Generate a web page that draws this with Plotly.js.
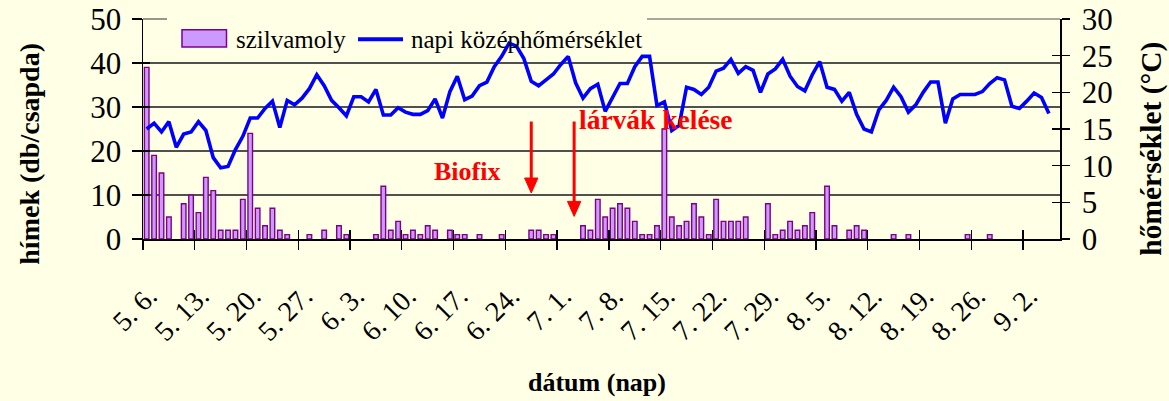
<!DOCTYPE html>
<html>
<head>
<meta charset="utf-8">
<script src="https://cdn.plot.ly/plotly-3.0.1.min.js"></script>
<style>html,body{margin:0;padding:0;background:#FFFFE6;}#chart{width:1169px;height:401px;}</style>
</head>
<body>
<div id="chart"></div>
<script>
// ---- data (one value per day, 6 May .. 6 Sep) ----
const nDays = 124;
const tickLabels = ['5. 6.','5. 13.','5. 20.','5. 27.','6. 3.','6. 10.','6. 17.','6. 24.','7. 1.','7. 8.','7. 15.','7. 22.','7. 29.','8. 5.','8. 12.','8. 19.','8. 26.','9. 2.'];
const mothCounts = [
 39,19,15,5,0,8,10,6,14,11,
 2,2,2,9,24,7,3,7,2,1,
 0,0,1,0,2,0,3,1,0,0,
 0,1,12,2,4,1,2,1,3,2,
 0,2,1,1,0,1,0,0,1,0,
 0,0,2,2,1,1,0,0,0,3,
 2,9,5,7,8,7,4,1,1,3,
 25,5,3,4,8,5,1,9,4,4,
 4,5,0,0,8,1,2,4,2,3,
 6,0,12,3,0,2,3,2,0,0,
 0,1,0,1,0,0,0,0,0,0,
 0,1,0,0,1,0,0,0,0,0,
 0,0,0,0];
const meanTemp = [
 15.0,15.8,14.6,16.0,12.5,14.3,14.6,16.0,14.8,11.1,
 9.7,9.9,12.2,14.0,16.5,16.5,17.8,18.8,15.2,18.9,
 18.3,19.2,20.5,22.4,20.9,18.9,17.9,16.8,19.4,19.4,
 18.7,20.4,16.9,16.9,17.9,17.3,17.0,17.0,17.5,19.1,
 16.5,20.1,22.2,19.0,19.5,20.9,21.4,23.5,24.9,26.7,
 26.3,24.6,21.5,20.9,21.7,22.5,23.8,24.9,21.3,19.2,
 20.5,21.1,17.4,19.2,21.2,21.2,23.5,24.9,24.9,18.2,
 18.7,14.8,15.5,20.7,20.4,19.7,20.7,22.9,23.3,24.5,
 22.6,23.5,23.0,20.0,22.5,23.2,24.5,22.2,20.8,20.2,
 22.4,24.2,20.7,20.4,18.8,20.0,17.0,15.0,14.6,17.6,
 18.9,20.7,19.4,17.3,18.3,20.0,21.4,21.4,15.8,19.1,
 19.7,19.7,19.7,20.1,21.2,22.0,21.7,18.1,17.8,18.8,
 19.9,19.3,17.1,null];
const seriesNames = ['szilvamoly','napi középhőmérséklet'];

// ---- build ----
const days = Array.from({length:nDays},(_,i)=>i);
const weekStarts = tickLabels.map((_,k)=>k*7);
const boundaryTicks = weekStarts.map(d=>d-0.5);
const labelPos = weekStarts.map(d=>d+0.3);

const BG = '#FFFFE6';
const FONT = 'Liberation Serif, Times New Roman, serif';
const xRange = [-0.5, nDays-0.5];

const traces = [
 {type:'bar', x:days, y:mothCounts.map(v=>v===0?null:v), name:seriesNames[0],
  xaxis:'x', yaxis:'y', width:0.62,
  marker:{color:'#CC99FF', line:{color:'#800080', width:1.4}}, showlegend:false},
 {type:'scatter', mode:'lines', x:days, y:meanTemp, name:seriesNames[1],
  xaxis:'x', yaxis:'y2', line:{color:'#0000FF', width:3.6}, showlegend:false},
 {type:'scatter', x:[null], y:[null], xaxis:'x2', yaxis:'y', showlegend:false, hoverinfo:'skip'},
 {type:'scatter', x:[null], y:[null], xaxis:'x3', yaxis:'y', showlegend:false, hoverinfo:'skip'},
 {type:'scatter', x:[null], y:[null], xaxis:'x', yaxis:'y3', showlegend:false, hoverinfo:'skip'},
 {type:'scatter', x:[null], y:[null], xaxis:'x', yaxis:'y4', showlegend:false, hoverinfo:'skip'}
];

// helpers for decoration placement in paper units
const L=143, R=1060, T=19.3, B=239.3;
const px = x => (x-L)/(R-L);
const py = y => (B-y)/(B-T);

function txt(text, x, y, size, color, extra){
 return Object.assign({text, xref:'paper', yref:'paper', x:px(x), y:py(y),
  xanchor:'center', yanchor:'middle', showarrow:false,
  font:{family:FONT, size, color}}, extra||{});
}

const annotations = [
 txt('<b>hímek (db/csapda)</b>', 30, 154, 28, '#000', {textangle:-90}),
 txt('<b>hőmérséklet (°C)</b>', 1152, 149, 29.5, '#000', {textangle:-90}),
 txt('<b>dátum (nap)</b>', 597, 383, 26, '#000'),
 txt('<b>Biofix</b>', 467, 172, 26, '#FF0000'),
 txt('<b>lárvák kelése</b>', 656, 120, 27.5, '#FF0000'),
 txt(seriesNames[0], 234, 40, 25, '#000', {xanchor:'left'}),
 txt(seriesNames[1], 409, 40, 25, '#000', {xanchor:'left'})
];

function arrow(xd, topY, tipY){
 const headLen = 15/4.4, half = 0.9;
 return [
  {type:'line', xref:'x', yref:'y', x0:xd, x1:xd, y0:topY, y1:tipY+headLen*0.8,
   line:{color:'#FF0000', width:3}, layer:'above'},
  {type:'path', xref:'x', yref:'y',
   path:`M ${xd-half},${tipY+headLen} L ${xd+half},${tipY+headLen} L ${xd},${tipY} Z`,
   fillcolor:'#FF0000', line:{color:'#FF0000', width:1}, layer:'above'}
 ];
}

const GRID = '#505050';
const shapes = [
 // top gridline (value 50), interrupted by the legend box
 {type:'line', xref:'paper', yref:'paper', x0:0, x1:px(167), y0:1, y1:1,
  line:{color:GRID, width:1.2}, layer:'above'},
 {type:'line', xref:'paper', yref:'paper', x0:px(647), x1:1, y0:1, y1:1,
  line:{color:GRID, width:1.2}, layer:'above'},
 // legend symbols
 {type:'rect', xref:'paper', yref:'paper', x0:px(182), x1:px(226.5), y0:py(47.3), y1:py(30),
  fillcolor:'#CC99FF', line:{color:'#800080', width:1.5}, layer:'above'},
 {type:'line', xref:'paper', yref:'paper', x0:px(358), x1:px(403), y0:py(39.5), y1:py(39.5),
  line:{color:'#0000FF', width:4}, layer:'above'},
 ...arrow(52, 26.7, 10.45),
 ...arrow(57.8, 26.7, 5.14)
];

const xTickFont = {family:FONT, size:28, color:'#000'};
const yTickFont = {family:FONT, size:31, color:'#000'};
const layout = {
 width:1169, height:401,
 paper_bgcolor:BG, plot_bgcolor:BG,
 margin:{l:L, r:1169-R, t:T, b:401-B, pad:0},
 showlegend:false, bargap:0,
 xaxis:{range:xRange, tickmode:'array', tickvals:labelPos, ticktext:tickLabels, tickangle:-45,
  ticks:'', showline:true, linecolor:'#000', linewidth:1.5, showgrid:false, zeroline:false,
  tickfont:xTickFont, ticklabelstandoff:28, fixedrange:true},
 xaxis2:{overlaying:'x', anchor:'y', range:xRange, tickmode:'array', tickvals:boundaryTicks,
  ticks:'outside', ticklen:10, tickwidth:1.3, tickcolor:'#000', showticklabels:false,
  showline:false, showgrid:false, zeroline:false},
 xaxis3:{overlaying:'x', anchor:'y', range:xRange, tickmode:'array', tickvals:boundaryTicks,
  ticks:'inside', ticklen:9, tickwidth:1.3, tickcolor:'#000', showticklabels:false,
  showline:false, showgrid:false, zeroline:false},
 yaxis:{range:[0,50], tickmode:'array', tickvals:[0,10,20,30,40,50], ticks:'outside', ticklen:10,
  tickwidth:1.3, tickcolor:'#000', showline:true, linecolor:'#000', linewidth:1.5,
  showgrid:true, gridcolor:GRID, gridwidth:1.2, zeroline:false, tickfont:yTickFont,
  ticklabelstandoff:4},
 yaxis2:{overlaying:'y', side:'right', anchor:'x', range:[0,30], tickmode:'array',
  tickvals:[0,5,10,15,20,25,30], ticks:'outside', ticklen:8, tickwidth:1.3, tickcolor:'#000',
  showline:true, linecolor:'#000', linewidth:1.5, showgrid:false, zeroline:false,
  tickfont:yTickFont, ticklabelstandoff:6},
 yaxis3:{overlaying:'y', anchor:'x', range:[0,50], tickmode:'array', tickvals:[0,10,20,30,40,50],
  ticks:'inside', ticklen:7, tickwidth:1.3, tickcolor:'#000', showticklabels:false,
  showline:false, showgrid:false, zeroline:false},
 yaxis4:{overlaying:'y', side:'right', anchor:'x', range:[0,30], tickmode:'array',
  tickvals:[0,5,10,15,20,25,30], ticks:'inside', ticklen:8, tickwidth:1.3, tickcolor:'#000',
  showticklabels:false, showline:false, showgrid:false, zeroline:false},
 annotations, shapes
};

Plotly.newPlot('chart', traces, layout, {staticPlot:true, displayModeBar:false});
</script>
</body>
</html>
